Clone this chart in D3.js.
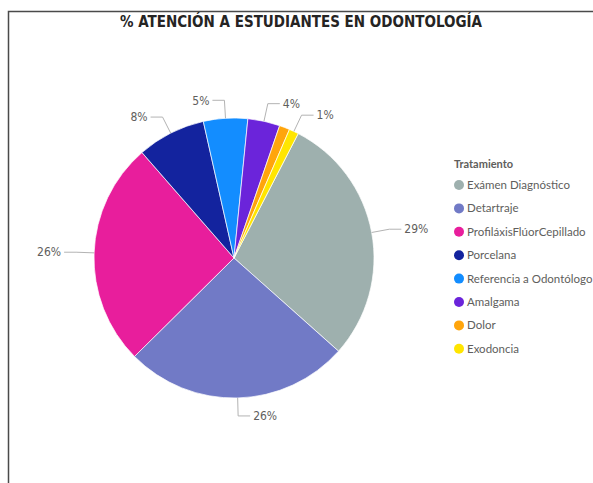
<!DOCTYPE html>
<html>
<head>
<meta charset="utf-8">
<script src="https://cdn.jsdelivr.net/npm/d3@7"></script>
<style>
  body { margin: 0; background: #fff; }
  svg { display: block; }
</style>
</head>
<body>
<div id="chart"></div>
<script>
// datos
const categories = ['Exámen Diagnóstico', 'Detartraje', 'ProfiláxisFlúorCepillado', 'Porcelana',
    'Referencia a Odontólogo', 'Amalgama', 'Dolor', 'Exodoncia'];
const values = [29.0, 26.0, 26.0, 7.9, 5.1, 3.7, 1.2, 1.1];
const labels = ['29%', '26%', '26%', '8%', '5%', '4%', '', '1%'];
const colors = ['#9EB0AE', '#717AC6', '#E81E9C', '#13239E', '#138DFF', '#6B24DA', '#FFA50C', '#FFE500'];

const width = 593, height = 483;
const cx = 234, cy = 258, r = 140;
const startOffset = 27.3 * Math.PI / 180;

const svg = d3.select('#chart').append('svg')
    .attr('width', width)
    .attr('height', height);

// marco
svg.append('path')
    .attr('d', `M 8.5,${height} V 11.5 H ${width}`)
    .attr('fill', 'none')
    .attr('stroke', '#4a4a4a')
    .attr('stroke-width', 1.5);

svg.append('text')
    .attr('x', 301)
    .attr('y', 27)
    .attr('text-anchor', 'middle')
    .attr('font-family', '"DejaVu Sans Condensed", "Liberation Sans Narrow", Roboto, sans-serif')
    .attr('font-weight', 'bold')
    .attr('font-size', 15)
    .attr('fill', '#252423')
    .text('% ATENCIÓN A ESTUDIANTES EN ODONTOLOGÍA');

const data = categories.map((c, i) => ({name: c, value: values[i], label: labels[i], color: colors[i]}));

const pie = d3.pie()
    .value(d => d.value)
    .sort(null)
    .startAngle(startOffset)
    .endAngle(startOffset + 2 * Math.PI);

const arcs = pie(data);
const arc = d3.arc().innerRadius(0).outerRadius(r);

const g = svg.append('g').attr('transform', `translate(${cx},${cy})`);

g.selectAll('path.slice')
    .data(arcs)
    .enter()
    .append('path')
    .attr('class', 'slice')
    .attr('d', arc)
    .attr('fill', d => d.data.color)
    .attr('stroke', '#fff')
    .attr('stroke-width', 0.7);

// etiquetas con líneas guía
const labelled = arcs.filter(d => d.data.label !== '');
const pt = (a, rad) => [rad * Math.sin(a), -rad * Math.cos(a)];

labelled.forEach(d => {
    const mid = (d.startAngle + d.endAngle) / 2;
    const p0 = pt(mid, r);
    const p1 = pt(mid, r + 18);
    const right = Math.sin(mid) >= 0;
    const p2 = [p1[0] + (right ? 12 : -12), p1[1]];

    g.append('polyline')
        .attr('points', [p0, p1, p2].map(p => p.join(',')).join(' '))
        .attr('fill', 'none')
        .attr('stroke', '#b3b3b3')
        .attr('stroke-width', 1);

    g.append('text')
        .attr('x', p2[0] + (right ? 3 : -3))
        .attr('y', p2[1])
        .attr('dy', '0.35em')
        .attr('text-anchor', right ? 'start' : 'end')
        .attr('font-family', '"DejaVu Sans Condensed", "Liberation Sans Narrow", Roboto, sans-serif')
        .attr('font-size', 12)
        .attr('fill', '#605e5c')
        .text(d.data.label);
});

// leyenda
const legend = svg.append('g').attr('transform', 'translate(454,164)');

legend.append('text')
    .attr('x', 0)
    .attr('y', 0)
    .attr('dy', '0.35em')
    .attr('font-family', 'Lato, "Open Sans", sans-serif')
    .attr('font-weight', 'bold')
    .attr('font-size', 11)
    .attr('fill', '#605e5c')
    .text('Tratamiento');

const item = legend.selectAll('g.item')
    .data(data)
    .enter()
    .append('g')
    .attr('class', 'item')
    .attr('transform', (d, i) => `translate(0,${21 + i * 23.4})`);

item.append('circle')
    .attr('cx', 5)
    .attr('cy', 0)
    .attr('r', 5)
    .attr('fill', d => d.color);

item.append('text')
    .attr('x', 13)
    .attr('y', 0)
    .attr('dy', '0.35em')
    .attr('font-family', 'Lato, "Open Sans", sans-serif')
    .attr('font-size', 11.5)
    .attr('fill', '#605e5c')
    .text(d => d.name);
</script>
</body>
</html>
